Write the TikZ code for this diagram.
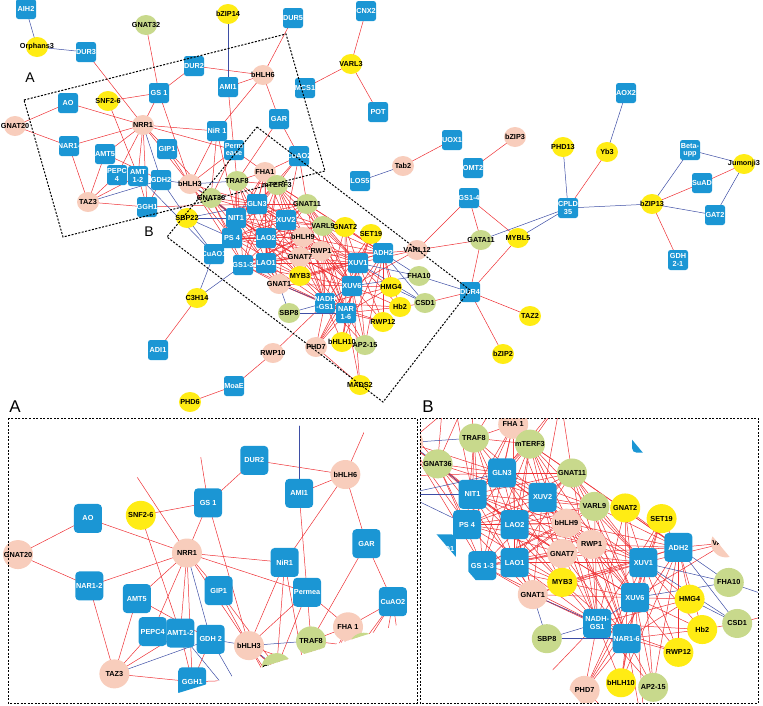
\documentclass[tikz,border=0pt]{standalone}
\usepackage{fontspec}
\setmainfont{Liberation Sans}
\usetikzlibrary{shapes.geometric}

\definecolor{boxblue}{RGB}{27,150,212}
\definecolor{tfyellow}{RGB}{255,236,20}
\definecolor{tfpink}{RGB}{248,205,188}
\definecolor{tfgreen}{RGB}{200,217,140}
\definecolor{edgered}{RGB}{238,48,52}
\definecolor{edgeblue}{RGB}{62,78,165}

% label text may run past the node, as in the network plot
\newcommand\lb[1]{\makebox[0pt]{#1}}
\newcommand\two[2]{\shortstack{#1\\#2}}
\newcommand\pick[2]{#1}

\tikzset{
  boxsize/.style={minimum width=20pt, minimum height=20pt},
  tfsize/.style={minimum width=22pt, minimum height=20pt},
  gene/.style={rectangle, rounded corners=2.5pt, fill=boxblue, text=white, inner sep=0pt, boxsize},
  tf/.style={ellipse, inner sep=0pt, tfsize},
  ytf/.style={tf, fill=tfyellow},
  ptf/.style={tf, fill=tfpink},
  gtf/.style={tf, fill=tfgreen},
  redge/.style={draw=edgered, line width=0.5pt},
  bedge/.style={draw=edgeblue, line width=0.5pt},
  zoomframe/.style={line width=1pt, dash pattern=on 2pt off 1.5pt},
  every node/.style={font=\bfseries\fontsize{7.3}{8}\selectfont}
}

% positions of the whole network (pixels, y downwards)
\newcommand\netcoords{%
  \coordinate (AIH2) at (26,9);
  \coordinate (Orph3) at (37,47);
  \coordinate (DUR3) at (86,52);
  \coordinate (GNAT32) at (146,25);
  \coordinate (bZIP14) at (228,14);
  \coordinate (DUR5) at (293,18);
  \coordinate (CNX2) at (366,11);
  \coordinate (VARL3) at (351,64);
  \coordinate (MCS1) at (305,88);
  \coordinate (POT) at (378,112);
  \coordinate (DUR2) at (194,66);
  \coordinate (bHLH6) at (263,75);
  \coordinate (AMI1) at (228,87);
  \coordinate (GAR) at (279,119);
  \coordinate (AO) at (68,103);
  \coordinate (SNF26) at (108,101);
  \coordinate (GS1) at (159,93);
  \coordinate (NRR1) at (143,125);
  \coordinate (GNAT20) at (15,126);
  \coordinate (NAR12) at (69,146);
  \coordinate (NiR1) at (217,131);
  \coordinate (GIP1) at (167,149);
  \coordinate (AMT5) at (105,154);
  \coordinate (PEPC4) at (117,175);
  \coordinate (AMT12) at (138,176);
  \coordinate (GDH2) at (161,180);
  \coordinate (bHLH3) at (190,184);
  \coordinate (Perm) at (234,150);
  \coordinate (TAZ3) at (88,202);
  \coordinate (GGH1) at (147,207);
  \coordinate (FHA1) at (265,172);
  \coordinate (CuAO2) at (299,156);
  \coordinate (TRAF8) at (237,181);
  \coordinate (mTERF3) at (277,185);
  \coordinate (GNAT36) at (211,198);
  \coordinate (SBP22) at (187,218);
  \coordinate (GLN3) at (257,204);
  \coordinate (NIT1) at (236,218);
  \coordinate (XUV2) at (286,220);
  \coordinate (GNAT11) at (307,204);
  \coordinate (VARL9) at (323,226);
  \coordinate (GNAT2) at (345,227);
  \coordinate (SET19) at (371,234);
  \coordinate (bHLH9) at (303,237);
  \coordinate (PS4) at (232,238);
  \coordinate (LAO2) at (266,238);
  \coordinate (RWP1) at (321,251);
  \coordinate (GNAT7) at (300,257);
  \coordinate (CuAO1) at (214,254);
  \coordinate (GS13) at (243,265);
  \coordinate (LAO1) at (266,263);
  \coordinate (MYB3) at (300,276);
  \coordinate (GNAT1) at (279,284);
  \coordinate (XUV1) at (358,263);
  \coordinate (ADH2) at (383,253);
  \coordinate (VARL12) at (417,250);
  \coordinate (FHA10) at (419,276);
  \coordinate (XUV6) at (352,286);
  \coordinate (HMG4) at (391,287);
  \coordinate (NADH) at (325,303);
  \coordinate (NAR16) at (346,313);
  \coordinate (SBP8) at (289,313);
  \coordinate (Hb2) at (400,307);
  \coordinate (CSD1) at (425,303);
  \coordinate (RWP12) at (383,322);
  \coordinate (bHLH10) at (342,342);
  \coordinate (AP215) at (365,345);
  \coordinate (PHD7) at (316,347);
  \coordinate (DUR4) at (470,292);
  \coordinate (TAZ2) at (530,316);
  \coordinate (bZIP2) at (503,354);
  \coordinate (MADS2) at (360,385);
  \coordinate (C3H14) at (197,298);
  \coordinate (ADI1) at (158,350);
  \coordinate (RWP10) at (273,353);
  \coordinate (MoaE) at (234,386);
  \coordinate (PHD6) at (190,402);
  \coordinate (Tab2) at (403,166);
  \coordinate (LOS5) at (360,181);
  \coordinate (UOX1) at (452,140);
  \coordinate (bZIP3) at (515,137);
  \coordinate (OMT2) at (473,168);
  \coordinate (GS14) at (469,198);
  \coordinate (PHD13) at (563,147);
  \coordinate (Yb3) at (607,152);
  \coordinate (AOX2) at (626,93);
  \coordinate (CPLD35) at (568,208);
  \coordinate (GATA11) at (481,240);
  \coordinate (MYBL5) at (518,238);
  \coordinate (bZIP13) at (652,204);
  \coordinate (Betaupp) at (690,150);
  \coordinate (Jumonji3) at (744,164);
  \coordinate (SuAD) at (702,183);
  \coordinate (GAT2) at (715,215);
  \coordinate (GDH21) at (678,260);
}

\newcommand\netedges{%
  \foreach \a/\b in {GNAT32/GS1, DUR3/NRR1, DUR5/bHLH6, CNX2/VARL3, VARL3/MCS1, VARL3/POT,
      DUR2/bHLH6, DUR2/GS1, AMI1/bHLH6, AMI1/Perm, bHLH6/NiR1, bHLH6/GAR, GAR/CuAO2, GAR/TRAF8,
      CuAO2/FHA1, Perm/FHA1, GNAT20/AO, GNAT20/NAR12, AO/NRR1, NAR12/NRR1, NAR12/TAZ3,
      SNF26/GS1, SNF26/AMT12, GS1/NRR1, GS1/bHLH3, NRR1/NiR1, NRR1/Perm, NRR1/GIP1, NRR1/AMT5,
      NRR1/PEPC4, NRR1/AMT12, NRR1/GGH1, NRR1/bHLH3, AMT5/TAZ3, AMT5/GDH2, PEPC4/TAZ3,
      AMT12/TAZ3, TAZ3/GGH1, AMT12/GGH1, GDH2/GGH1, GGH1/GLN3, GIP1/bHLH3, GIP1/GNAT36,
      NiR1/bHLH3, NiR1/GNAT36, NiR1/NIT1, Perm/bHLH3, Perm/TRAF8, Perm/GNAT36, FHA1/TRAF8,
      bHLH3/GLN3, bHLH3/NIT1, bHLH3/PS4, bHLH3/LAO2, bHLH3/GS13, CuAO2/mTERF3, CuAO2/GLN3,
      CuAO2/XUV2, CuAO2/GNAT11, FHA1/mTERF3, TRAF8/mTERF3, mTERF3/GNAT11, GNAT11/VARL9,
      Tab2/UOX1, bZIP3/OMT2, GS14/VARL12, GS14/GATA11, GS14/MYBL5, VARL12/GATA11, VARL12/ADH2,
      VARL12/XUV6, VARL12/XUV1, GATA11/DUR4, MYBL5/DUR4, CPLD35/Yb3, bZIP13/SuAD, bZIP13/GDH21,
      SuAD/Jumonji3, DUR4/TAZ2, DUR4/bZIP2, DUR4/CSD1, CSD1/Hb2, C3H14/ADI1, RWP10/MoaE,
      MoaE/PHD6, RWP10/NADH, MADS2/NAR16, MADS2/XUV6, MADS2/PHD7,
      GLN3/XUV2, GLN3/NIT1, NIT1/LAO2, PS4/LAO2, LAO2/LAO1, GS13/LAO1, XUV2/LAO2, XUV2/XUV1,
      XUV1/XUV6, LAO2/XUV6, LAO1/NADH, LAO1/XUV1, GS13/NADH, PS4/XUV2}
    \draw[redge] (\a) -- (\b);
  \foreach \a in {GLN3,NIT1,XUV2,PS4,LAO2,LAO1,GS13}
    \foreach \b in {TRAF8,mTERF3,GNAT36,GNAT11,FHA1,bHLH9,GNAT7,RWP1,VARL9,MYB3,GNAT1}
      \draw[redge] (\a) -- (\b);
  \foreach \a in {XUV1,XUV6,ADH2,NADH,NAR16}
    \foreach \b in {GNAT11,mTERF3,VARL9,bHLH9,GNAT7,RWP1,MYB3,GNAT1,GNAT2,SET19,HMG4,Hb2,RWP12,bHLH10,AP215,PHD7}
      \draw[redge] (\a) -- (\b);
  \foreach \a/\b in {AIH2/Orph3, Orph3/DUR3, bZIP14/AMI1, Tab2/LOS5, CPLD35/GATA11,
      CPLD35/MYBL5, CPLD35/PHD13, Yb3/AOX2, CPLD35/bZIP13, bZIP13/Betaupp, bZIP13/GAT2,
      Betaupp/Jumonji3, GAT2/Jumonji3, NRR1/GDH2, TAZ3/GDH2, GDH2/bHLH3, GDH2/SBP22,
      AMT12/CuAO1, bHLH3/TRAF8, bHLH3/GNAT36, SBP22/NIT1, SBP22/PS4, SBP22/CuAO1, SBP22/GLN3,
      C3H14/CuAO1, C3H14/GS13, GNAT1/SBP8, GNAT1/NADH, SBP8/NADH, SBP8/NAR16, NADH/XUV6,
      XUV1/FHA10, XUV6/FHA10, ADH2/FHA10, ADH2/CSD1, XUV1/CSD1, HMG4/CSD1, DUR4/FHA10,
      CuAO1/PS4, NIT1/GNAT36}
    \draw[bedge] (\a) -- (\b);
}

\newcommand\netnodes{%
  \node[gene] at (AIH2) {\lb{AIH2}};
  \node[ytf] at (Orph3) {\lb{Orphans3}};
  \node[gene] at (DUR3) {\lb{DUR3}};
  \node[gtf] at (GNAT32) {\lb{GNAT32}};
  \node[ytf] at (bZIP14) {\lb{bZIP14}};
  \node[gene] at (DUR5) {\lb{DUR5}};
  \node[gene] at (CNX2) {\lb{CNX2}};
  \node[ytf] at (VARL3) {\lb{VARL3}};
  \node[gene] at (MCS1) {\lb{MCS1}};
  \node[gene] at (POT) {\lb{POT}};
  \node[gene] at (DUR2) {\lb{DUR2}};
  \node[ptf] at (bHLH6) {\lb{bHLH6}};
  \node[gene] at (AMI1) {\lb{AMI1}};
  \node[gene] at (GAR) {\lb{GAR}};
  \node[gene] at (AO) {\lb{AO}};
  \node[ytf] at (SNF26) {\lb{SNF2-6}};
  \node[gene] at (GS1) {\lb{GS 1}};
  \node[ptf] at (NRR1) {\lb{NRR1}};
  \node[ptf] at (GNAT20) {\lb{GNAT20}};
  \node[gene] at (NAR12) {\lb{\pick{NAR1-}{NAR1-2}}};
  \node[gene] at (NiR1) {\lb{\pick{NiR 1}{NiR1}}};
  \node[gene] at (GIP1) {\lb{GIP1}};
  \node[gene] at (AMT5) {\lb{AMT5}};
  \node[gene] at (PEPC4) {\lb{\pick{\two{PEPC}{4}}{PEPC4}}};
  \node[gene] at (AMT12) {\lb{\pick{\two{AMT}{1-2}}{AMT1-2}}};
  \node[gene] at (GDH2) {\lb{\pick{GDH2}{GDH 2}}};
  \node[ptf] at (bHLH3) {\lb{bHLH3}};
  \node[gene] at (Perm) {\lb{\pick{\two{Perm}{ease}}{Permea}}};
  \node[ptf] at (TAZ3) {\lb{TAZ3}};
  \node[gene] at (GGH1) {\lb{GGH1}};
  \node[ptf] at (FHA1) {\lb{\pick{FHA1}{FHA 1}}};
  \node[gene] at (CuAO2) {\lb{CuAO2}};
  \node[gtf] at (TRAF8) {\lb{TRAF8}};
  \node[gtf] at (mTERF3) {\lb{mTERF3}};
  \node[gtf] at (GNAT36) {\lb{GNAT36}};
  \node[ytf] at (SBP22) {\lb{SBP22}};
  \node[gene] at (GLN3) {\lb{GLN3}};
  \node[gene] at (NIT1) {\lb{NIT1}};
  \node[gene] at (XUV2) {\lb{XUV2}};
  \node[gtf] at (GNAT11) {\lb{GNAT11}};
  \node[gtf] at (VARL9) {\lb{VARL9}};
  \node[ytf] at (GNAT2) {\lb{GNAT2}};
  \node[ytf] at (SET19) {\lb{SET19}};
  \node[ptf] at (bHLH9) {\lb{bHLH9}};
  \node[gene] at (PS4) {\lb{PS 4}};
  \node[gene] at (LAO2) {\lb{LAO2}};
  \node[ptf] at (RWP1) {\lb{RWP1}};
  \node[ptf] at (GNAT7) {\lb{GNAT7}};
  \node[gene] at (CuAO1) {\lb{CuAO1}};
  \node[gene] at (GS13) {\lb{\pick{GS1-3}{GS 1-3}}};
  \node[gene] at (LAO1) {\lb{LAO1}};
  \node[ytf] at (MYB3) {\lb{MYB3}};
  \node[ptf] at (GNAT1) {\lb{GNAT1}};
  \node[gene] at (XUV1) {\lb{XUV1}};
  \node[gene] at (ADH2) {\lb{ADH2}};
  \node[ptf] at (VARL12) {\lb{VARL12}};
  \node[gtf] at (FHA10) {\lb{FHA10}};
  \node[gene] at (XUV6) {\lb{XUV6}};
  \node[ytf] at (HMG4) {\lb{HMG4}};
  \node[gene] at (NADH) {\lb{\pick{\two{NADH}{-GS1}}{\two{NADH-}{GS1}}}};
  \node[gene] at (NAR16) {\lb{\pick{\two{NAR}{1-6}}{NAR1-6}}};
  \node[gtf] at (SBP8) {\lb{SBP8}};
  \node[ytf] at (Hb2) {\lb{Hb2}};
  \node[gtf] at (CSD1) {\lb{CSD1}};
  \node[ytf] at (RWP12) {\lb{RWP12}};
  \node[ytf] at (bHLH10) {\lb{bHLH10}};
  \node[gtf] at (AP215) {\lb{AP2-15}};
  \node[ptf] at (PHD7) {\lb{PHD7}};
  \node[gene] at (DUR4) {\lb{DUR4}};
  \node[ytf] at (TAZ2) {\lb{TAZ2}};
  \node[ytf] at (bZIP2) {\lb{bZIP2}};
  \node[ytf] at (MADS2) {\lb{MADS2}};
  \node[ytf] at (C3H14) {\lb{C3H14}};
  \node[gene] at (ADI1) {\lb{ADI1}};
  \node[ptf] at (RWP10) {\lb{RWP10}};
  \node[gene] at (MoaE) {\lb{MoaE}};
  \node[ytf] at (PHD6) {\lb{PHD6}};
  \node[ptf] at (Tab2) {\lb{Tab2}};
  \node[gene] at (LOS5) {\lb{LOS5}};
  \node[gene] at (UOX1) {\lb{UOX1}};
  \node[ptf] at (bZIP3) {\lb{bZIP3}};
  \node[gene] at (OMT2) {\lb{OMT2}};
  \node[gene] at (GS14) {\lb{GS1-4}};
  \node[ytf] at (PHD13) {\lb{PHD13}};
  \node[ytf] at (Yb3) {\lb{Yb3}};
  \node[gene] at (AOX2) {\lb{AOX2}};
  \node[gene] at (CPLD35) {\lb{\two{CPLD}{35}}};
  \node[gtf] at (GATA11) {\lb{GATA11}};
  \node[ytf] at (MYBL5) {\lb{MYBL5}};
  \node[ytf] at (bZIP13) {\lb{bZIP13}};
  \node[gene] at (Betaupp) {\lb{\two{Beta-}{upp}}};
  \node[ytf] at (Jumonji3) {\lb{Jumonji3}};
  \node[gene] at (SuAD) {\lb{SuAD}};
  \node[gene] at (GAT2) {\lb{GAT2}};
  \node[gene] at (GDH21) {\lb{\two{GDH}{2-1}}};
}

\begin{document}
\begin{tikzpicture}[x=1pt, y=-1pt]
  \useasboundingbox (0,0) rectangle (763,705);

  % whole network
  \begin{scope}
    \netcoords
    \netedges
    \netnodes
  \end{scope}
  \draw[zoomframe] (24,100) -- (286,34) -- (325,171) -- (63,237) -- cycle;
  \draw[zoomframe] (257,127) -- (470,290) -- (383,402) -- (167,237) -- cycle;
  \node[font=\fontsize{14}{14}\selectfont] (topA) at (30,78) {A};
  \node[font=\fontsize{14}{14}\selectfont] (topB) at (149,232) {B};

  % zoom A
  \begin{scope}
    \clip (0,521) -- (324,418) -- (360,418) -- (417,619) -- (146,703) -- (0,703) -- cycle;
    \begin{scope}[shift={(-1.8,356.75)}, xscale=1.32, yscale=1.57]
      \netcoords
    \end{scope}
    \renewcommand\pick[2]{#2}
    \tikzset{boxsize/.style={minimum width=28pt, minimum height=29pt},
      tfsize/.style={minimum width=30pt, minimum height=29pt},
      gene/.append style={rounded corners=4pt}}
    \netedges
    \netnodes
  \end{scope}

  % zoom B
  \begin{scope}
    \clip (420,418) -- (614,418) -- (758,591) -- (758,703) -- (581,703) -- (420,515) -- cycle;
    \begin{scope}[shift={(142.2,162.9)}, xscale=1.40, yscale=1.52]
      \netcoords
    \end{scope}
    \renewcommand\pick[2]{#2}
    \tikzset{boxsize/.style={minimum width=28pt, minimum height=29pt},
      tfsize/.style={minimum width=30pt, minimum height=29pt},
      gene/.append style={rounded corners=4pt}}
    \netedges
    \netnodes
  \end{scope}

  \draw[zoomframe] (8,418) rectangle (417,703);
  \draw[zoomframe] (420,418) rectangle (758,703);
  \node[font=\fontsize{17}{17}\selectfont] (panelA) at (15,407) {A};
  \node[font=\fontsize{17}{17}\selectfont] (panelB) at (428,407) {B};
\end{tikzpicture}
\end{document}
